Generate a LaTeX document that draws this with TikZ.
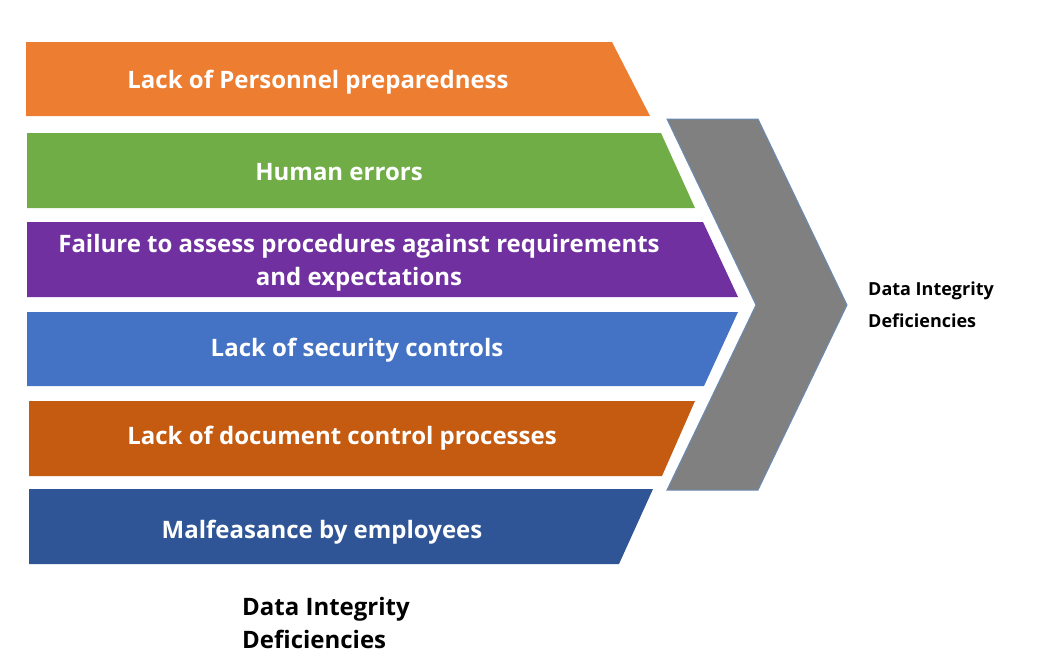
\documentclass[tikz,border=0pt]{standalone}
\usepackage{fontspec}
\setmainfont{Open Sans}
\definecolor{corange}{HTML}{ED7D31}
\definecolor{cgreen}{HTML}{70AD47}
\definecolor{cpurple}{HTML}{7030A0}
\definecolor{cblue}{HTML}{4472C4}
\definecolor{crust}{HTML}{C55A11}
\definecolor{cnavy}{HTML}{2F5597}
\definecolor{cgray}{HTML}{808080}
\definecolor{cedge}{HTML}{6A8CB4}
\begin{document}
\begin{tikzpicture}[x=1pt,y=-1pt,
  bartext/.style={text=white,font=\bfseries\fontsize{24}{33}\selectfont,align=center,inner sep=0pt},
  lbl/.style={text=black,font=\bfseries\fontsize{24}{33}\selectfont,align=left,inner sep=0pt,anchor=north west},
  smalllbl/.style={text=black,font=\bfseries\fontsize{18}{32}\selectfont,align=left,inner sep=0pt,anchor=north west}]
\useasboundingbox (0,0) rectangle (1052,670);
% bars
\fill[corange] (26,42) -- (612,42) -- (650,116) -- (26,116) -- cycle;
\fill[cgreen] (27,133) -- (661,133) -- (695,208) -- (27,208) -- cycle;
\fill[cpurple] (27,222) -- (703,222) -- (738,297) -- (27,297) -- cycle;
\fill[cblue] (27,312) -- (738,312) -- (704,386) -- (27,386) -- cycle;
\fill[crust] (29,401) -- (695,401) -- (662,476) -- (29,476) -- cycle;
\fill[cnavy] (29,489) -- (653,489) -- (619,564) -- (29,564) -- cycle;
% chevron
\filldraw[fill=cgray,draw=cedge,line width=1pt] (667,119) -- (758,119) -- (847,305) -- (758,490) -- (667,490) -- (756,305) -- cycle;
% texts
\node[bartext] (t1) at (318,82) {Lack of Personnel preparedness};
\node[bartext] (t2) at (339,172) {Human errors};
\node[bartext] (t3) at (359,263) {Failure to assess procedures against requirements\\and expectations};
\node[bartext] (t4) at (357,350) {Lack of security controls};
\node[bartext] (t5) at (342,438) {Lack of document control processes};
\node[bartext] (t6) at (322,532) {Malfeasance by employees};
\node[smalllbl] (r) at (868,282) {Data Integrity\\Deficiencies};
\node[lbl] (b) at (242,597) {Data Integrity\\Deficiencies};
\end{tikzpicture}
\end{document}
